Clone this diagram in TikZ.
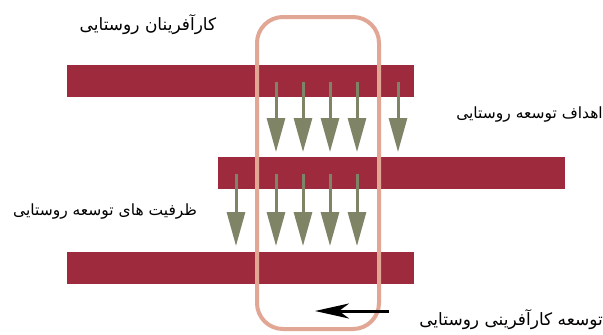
\documentclass[tikz,border=0pt]{standalone}
\usepackage{fontspec}
\newfontfamily\arabicfont[Script=Arabic]{DejaVu Sans}
\TeXXeTstate=1
\usetikzlibrary{arrows.meta}
\definecolor{barred}{RGB}{158,42,62}
\definecolor{olivearrow}{RGB}{128,132,102}
\definecolor{salmonframe}{RGB}{226,166,148}
\begin{document}
\begin{tikzpicture}[x=1pt,y=-1pt,
  bar/.style={fill=barred, draw=none, minimum width=347pt, minimum height=32pt, inner sep=0, anchor=north west},
  downarrow/.style={draw=olivearrow, line width=3pt, -{Triangle[width=18pt,length=34pt,fill=olivearrow]}},
  lbl/.style={font=\arabicfont, inner sep=0},
  framebox/.style={draw=salmonframe, line width=4pt, rounded corners=26pt},
  blackarrow/.style={draw=black, line width=3pt, -{Stealth[width=15pt,length=34pt,inset=10pt]}}]
\useasboundingbox (0,0) rectangle (603,335);
\fill[white] (0,0) rectangle (603,335);
% bars
\node[bar] (b1) at (67,65) {};
\node[bar] (b2) at (218,157) {};
\node[bar] (b3) at (67,252) {};
% arrows between bar 1 and bar 2
\foreach \x in {276,303,330,357,398}{
  \coordinate (s1-\x) at (\x,82);
  \coordinate (t1-\x) at (\x,152);
  \draw[downarrow] (s1-\x) -- (t1-\x);
}
% arrows between bar 2 and bar 3
\foreach \x in {236,276,303,330,357}{
  \coordinate (s2-\x) at (\x,174);
  \coordinate (t2-\x) at (\x,246);
  \draw[downarrow] (s2-\x) -- (t2-\x);
}
% frame
\draw[framebox] (257,17) rectangle (379,329);
% black arrow
\coordinate (ba1) at (389,311);
\coordinate (ba2) at (315,311);
\draw[blackarrow] (ba1) -- (ba2);
% labels
\node[lbl] (l1) at (148,25) {\fontsize{17}{20}\selectfont\beginR کارآفرینان روستایی\endR};
\node[lbl, anchor=east] (l2) at (603,115) {\fontsize{15.5}{18}\selectfont\beginR اهداف توسعه روستایی\endR};
\node[lbl] (l3) at (105,212) {\fontsize{15.5}{18}\selectfont\beginR ظرفیت های توسعه روستایی\endR};
\node[lbl, anchor=east] (l4) at (603,320) {\fontsize{17}{20}\selectfont\beginR توسعه کارآفرینی روستایی\endR};
\end{tikzpicture}
\end{document}
